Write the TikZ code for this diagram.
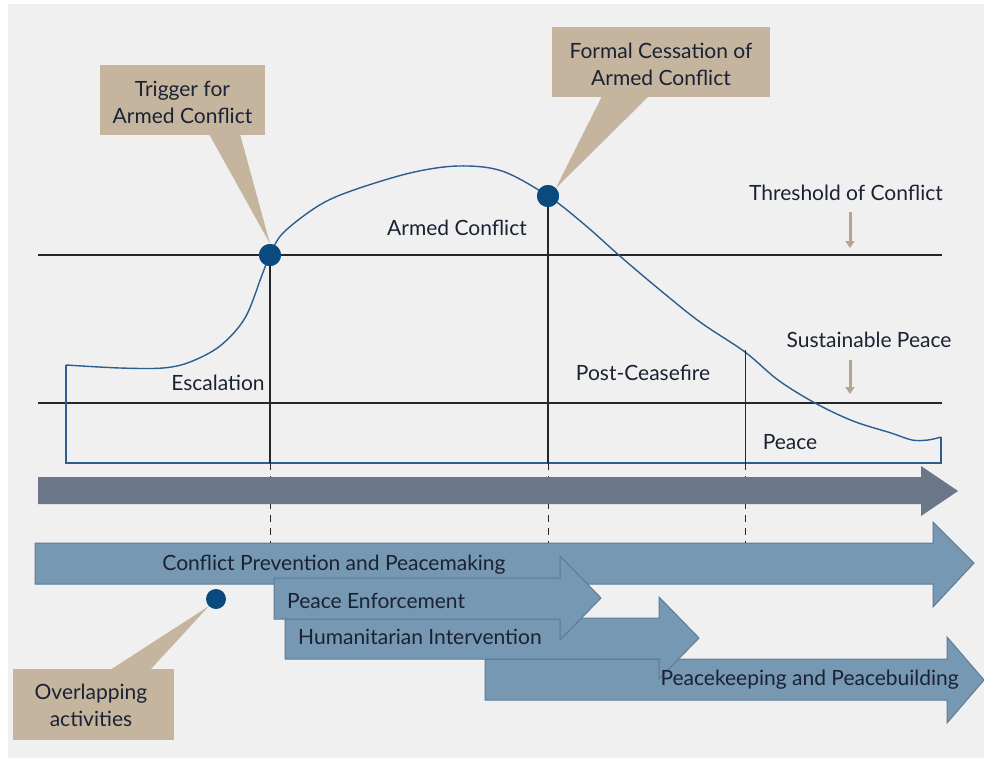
\documentclass[tikz,border=0pt]{standalone}
\usepackage{fontspec}
\setmainfont{Lato}
\usetikzlibrary{arrows.meta}
\definecolor{bgray}{HTML}{F0F0F0}
\definecolor{tan}{HTML}{C5B59F}
\definecolor{tandark}{HTML}{B5A58C}
\definecolor{dotblue}{HTML}{0B4A7E}
\definecolor{curveblue}{HTML}{2D5E8E}
\definecolor{barblue}{HTML}{7698B2}
\definecolor{barline}{HTML}{5B7B96}
\definecolor{slate}{HTML}{6B7689}
\definecolor{ink}{HTML}{1A2233}
\tikzset{
  lbl/.style={font=\fontsize{21}{27}\selectfont, text=ink, inner sep=0pt},
  callout/.style={fill=tan, draw=none},
  actarrow/.style={fill=barblue, draw=barline, line width=1pt},
  milestone/.style={circle, fill=dotblue, minimum size=22pt, inner sep=0pt},
  cue/.style={draw=tandark, line width=3pt, -{Triangle[width=9pt,length=7pt]}},
}
\begin{document}
\begin{tikzpicture}[x=1pt, y=-1pt]
            \def\yt{255}
            \def\ys{403}
            \def\yb{463}
            \useasboundingbox (0,0) rectangle (984,758);
            \fill[white] (0,0) rectangle (984,758);
            \fill[bgray] (8,4) rectangle (984,758);

            % threshold and peace lines
            \draw[line width=2.4pt, black!85] (38,\yt) -- (942,\yt);
            \draw[line width=2.4pt, black!85] (38,\ys) -- (942,\ys);

            % conflict curve
            \draw[curveblue, line width=1.4pt] plot[smooth, tension=0.55] coordinates {
              (66,365) (120,368) (163,368) (190,362) (220,346) (245,318) (262,275) (270,255)
              (283,233) (318,206) (351,191) (410,173) (458,166) (502,171) (548,196)
              (585,225) (621,257) (660,290) (700,322) (745,352) (778,380) (815,403)
              (853,421) (891,433) (912,440) (928,440) (941,437)};
            \draw[curveblue, line width=1.4pt] (66,365) -- (66,\yb) -- (941,\yb) -- (941,437);

            % milestones
            \node[milestone] (trig) at (270,\yt) {};
            \node[milestone] (cease) at (548,196) {};
            \coordinate (calm) at (745,350);
            \draw[line width=2.2pt, black!85] (trig.center) -- (270,\yb);
            \draw[line width=2.2pt, black!85] (cease.center) -- (548,\yb);
            \draw[line width=0.9pt, black!85] (calm) -- (745,\yb);
            \foreach \x in {270,548,745}
              \draw[line width=0.9pt, black!85, dash pattern=on 7pt off 6pt] (\x,\yb) -- (\x,545);

            % phase labels
            \node[lbl] (esc) at (218,383) {Escalation};
            \node[lbl] (armed) at (457,228) {Armed Conflict};
            \node[lbl] (post) at (643,373) {Post-Ceasefire};
            \node[lbl] (peace) at (790,442) {Peace};
            \node[lbl] (thresh) at (846,193) {Threshold of Conflict};
            \node[lbl] (sust) at (869,340) {Sustainable Peace};
            \draw[cue] (850,212) -- (850,248);
            \draw[cue] (850,360) -- (850,394);

            % time arrow
            \draw[fill=slate, draw=none] (38,477) -- (921,477) -- (921,466) -- (958,491)
              -- (921,516) -- (921,504) -- (38,504) -- cycle;

            % activity arrows
            \draw[actarrow] (35,543) -- (933,543) -- (933,522) -- (974,563)
              -- (933,607) -- (933,584) -- (35,584) -- cycle;
            \draw[actarrow] (485,659) -- (947,659) -- (947,637) -- (984,680)
              -- (947,723) -- (947,700) -- (485,700) -- cycle;
            \draw[actarrow] (285,618) -- (659,618) -- (659,597) -- (699,638)
              -- (659,679) -- (659,659) -- (285,659) -- cycle;
            \draw[actarrow] (274,578) -- (560,578) -- (560,556) -- (601,598)
              -- (560,640) -- (560,619) -- (274,619) -- cycle;
            \node[lbl] (cpp) at (334,565) {Conflict Prevention and Peacemaking};
            \node[lbl, anchor=west] (enf) at (287,601) {Peace Enforcement};
            \node[lbl, anchor=west] (hum) at (298,637) {Humanitarian Intervention};
            \node[lbl, anchor=east] (pkb) at (959,680) {Peacekeeping and Peacebuilding};

            % callouts
            \fill[callout] (209,134) -- (240,134) -- (trig.north) -- cycle;
            \fill[callout] (100,65) rectangle (265,135);
            \node[lbl, align=center] (trigtxt) at (182.5,102) {Trigger for\\Armed Conflict};
            \fill[callout] (602,96) -- (649,96) -- (cease.north east) -- cycle;
            \fill[callout] (552,27) rectangle (770,97);
            \node[lbl, align=center] (ceasetxt) at (661,64) {Formal Cessation of\\Armed Conflict};
            \node[milestone, minimum size=20pt] (ovl) at (216,599) {};
            \fill[callout] (110,670) -- (150,670) -- (ovl.south west) -- cycle;
            \fill[callout] (13,669) rectangle (174,740);
            \node[lbl, align=center] (ovltxt) at (91,705) {Overlapping\\activities};
            \node[milestone] at (trig) {};
            \node[milestone] at (cease) {};
\end{tikzpicture}
\end{document}
